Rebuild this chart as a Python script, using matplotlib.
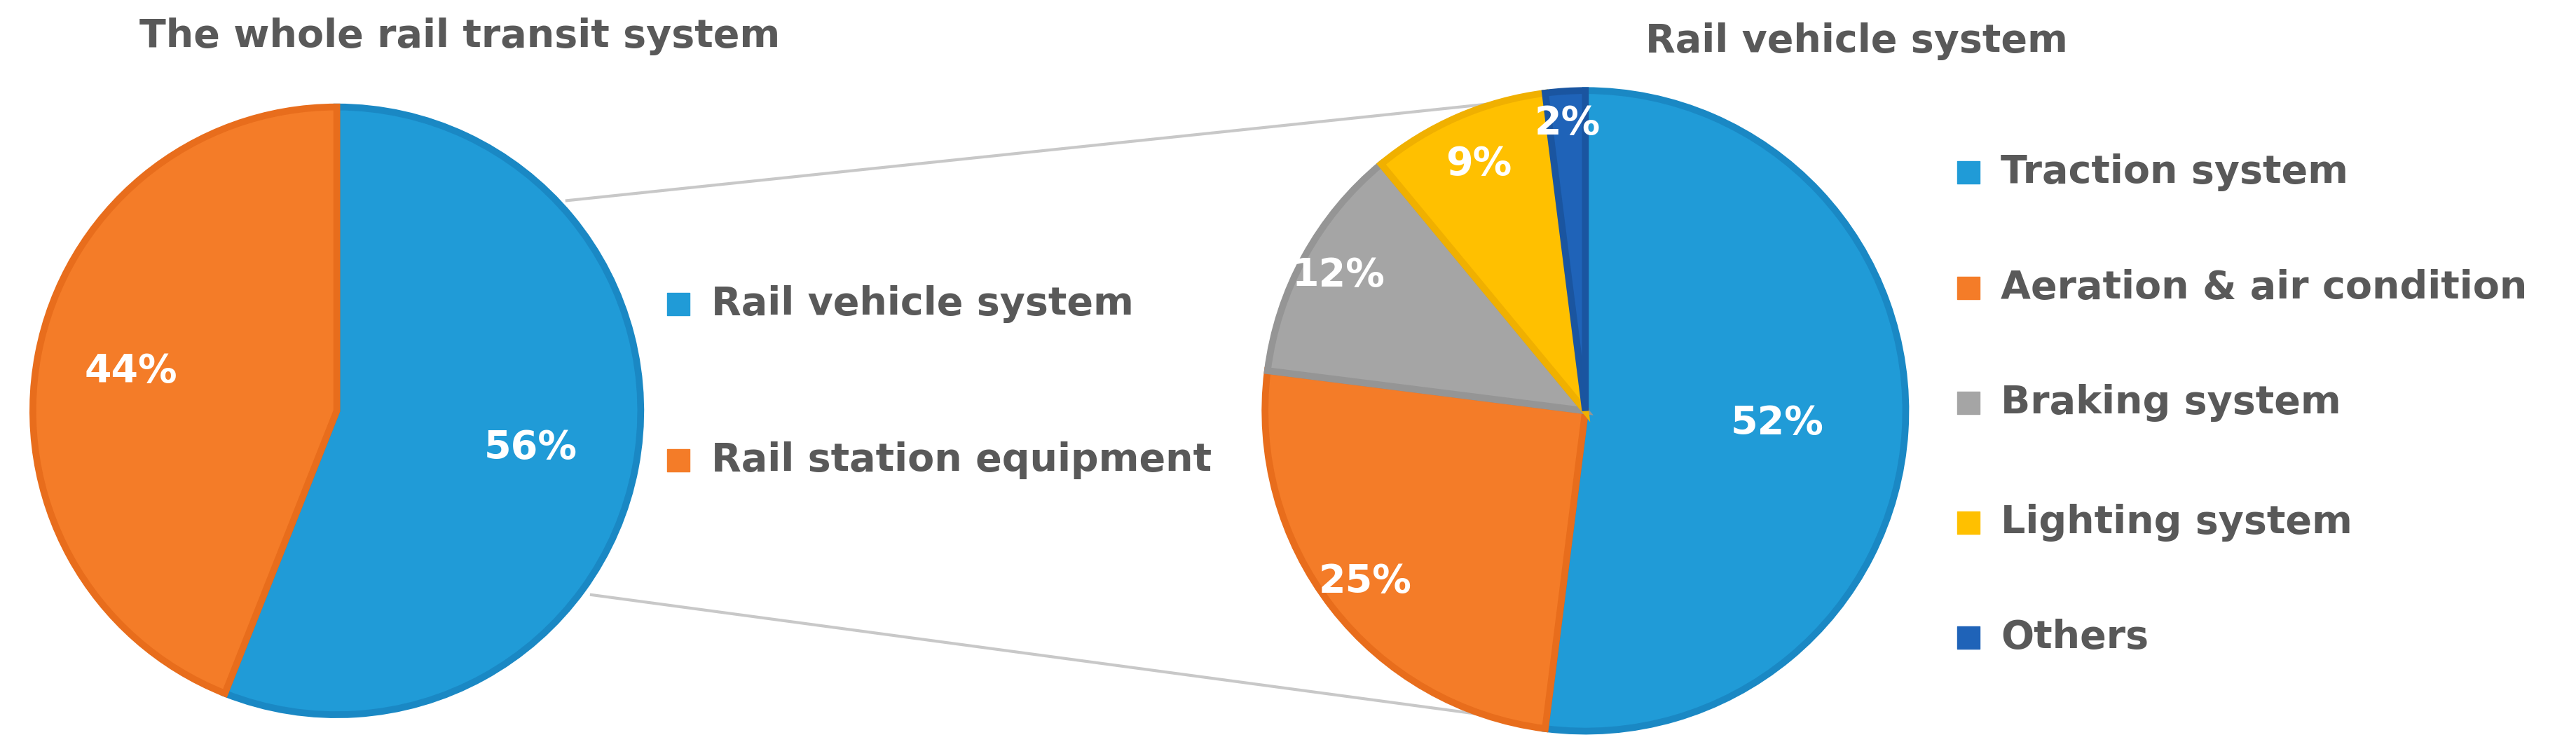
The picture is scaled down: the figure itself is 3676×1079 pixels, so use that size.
"""
Rail transit system share, with breakdown of the rail vehicle system.
"""
import numpy as np
import matplotlib.pyplot as plt

# data
main_labels = ['Rail vehicle system', 'Rail station equipment']
main_values = [56, 44]
sub_labels = ['Traction system', 'Aeration & air condition', 'Braking system',
              'Lighting system', 'Others']
sub_values = [52, 25, 12, 9, 2]

main_colors = ['#209bd7', '#f47c28']
main_edges = ['#1a88c4', '#e86d1c']
sub_colors = ['#209bd7', '#f47c28', '#a5a5a5', '#ffc000', '#1f63b8']
sub_edges = ['#1a88c4', '#e86d1c', '#959595', '#f0b000', '#1a55a0']
TEXT = '#595959'

W, H = 1568, 460
fig = plt.figure(figsize=(36.76, 10.79), dpi=100, facecolor='white')
ax = fig.add_axes([0, 0, 1, 1])
ax.set_xlim(0, W)
ax.set_ylim(0, H)
ax.set_aspect('equal')
ax.axis('off')


def draw_pie(values, colors, edges, center, radius, dists):
    wedges, _ = ax.pie(values, colors=colors, startangle=90, counterclock=False,
                       center=center, radius=radius,
                       wedgeprops=dict(linewidth=7))
    for w, ec, v, d in zip(wedges, edges, values, dists):
        w.set_edgecolor(ec)
        w.set_joinstyle('miter')
        mid = np.deg2rad((w.theta1 + w.theta2) / 2)
        ax.text(center[0] + d * radius * np.cos(mid),
                center[1] + d * radius * np.sin(mid),
                f'{v}%', color='white', fontsize=40, fontweight='bold',
                ha='center', va='center')


lc, lr = (205, H - 250), 185
rc, rr = (965, H - 250), 195

# connector lines
ax.plot([345, 965], [H - 122, H - 57], color='#c8c8c8', lw=3, zorder=0)
ax.plot([360, 940], [H - 362, H - 440], color='#c8c8c8', lw=3, zorder=0)

draw_pie(main_values, main_colors, main_edges, lc, lr, [0.65, 0.69])
draw_pie(sub_values, sub_colors, sub_edges, rc, rr, [0.6, 0.87, 0.88, 0.84, 0.9])

ax.set_xlim(0, W)
ax.set_ylim(0, H)

ax.text(280, H - 22, 'The whole rail transit system', fontsize=40,
        fontweight='bold', color=TEXT, ha='center', va='center')
ax.text(1130, H - 25, 'Rail vehicle system', fontsize=40,
        fontweight='bold', color=TEXT, ha='center', va='center')


def legend(labels, colors, x, ys):
    for lab, c, y in zip(labels, colors, ys):
        ax.scatter([x], [H - y], marker='s', s=500, color=c)
        ax.text(x + 20, H - y, lab, fontsize=40, fontweight='bold',
                color=TEXT, ha='left', va='center')


legend(main_labels, main_colors, 413, [185, 280])
legend(sub_labels, sub_colors, 1198, [105, 175, 245, 318, 388])

fig.savefig('out.png', dpi=100, facecolor='white')
